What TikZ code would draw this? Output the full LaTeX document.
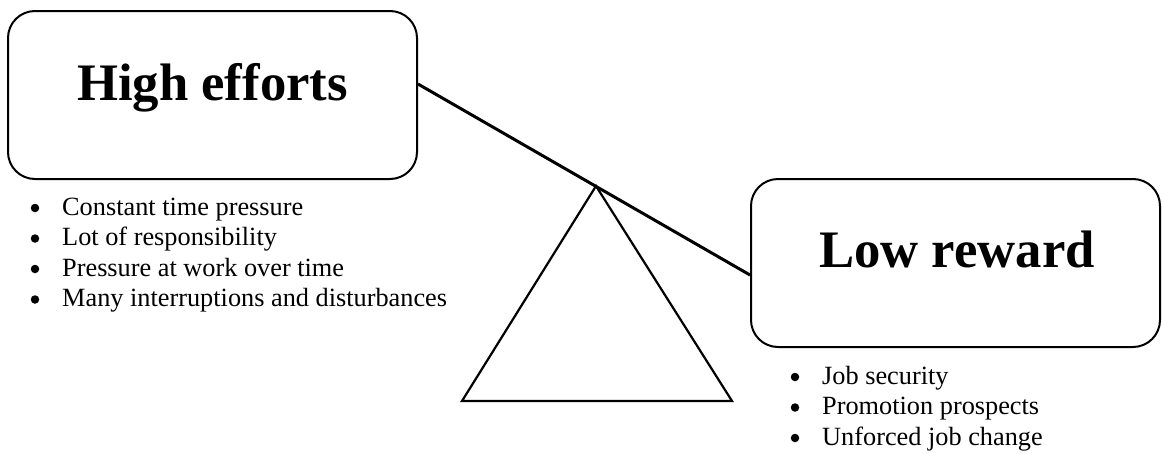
\documentclass[tikz,border=0pt]{standalone}
\usepackage{fontspec}
\setmainfont{Liberation Serif}
\usetikzlibrary{calc}
\begin{document}
\begin{tikzpicture}[x=1pt,y=-1pt,
  panel/.style={draw, line width=2pt, rounded corners=27pt,
    minimum width=409pt, minimum height=168pt, inner sep=0pt},
  heading/.style={font=\fontsize{52.7}{60}\selectfont\bfseries,
    anchor=base, inner sep=0pt},
  item/.style={font=\fontsize{26.3}{30}\selectfont, anchor=base west, inner sep=0pt},
  dot/.style={fill, circle, minimum size=8.5pt, inner sep=0pt},
  beam/.style={line width=3pt},
  fulcrum/.style={line width=2.2pt, line join=miter},
]
\useasboundingbox (0,0) rectangle (1164,453);

% the two rounded panels
\node[panel] (effort) at (212.5,95) {};
\node[panel] (reward) at (955.5,263) {};
\node[heading] (effortT) at (212.5,100) {High efforts};
\node[heading] (rewardT) at (957,267) {Low reward};

% tilted beam resting on the fulcrum
\coordinate (beamA) at ($(effort.east)+(0,-11)$);
\coordinate (beamB) at ($(reward.west)+(0,12)$);
\draw[beam] (beamA) -- (beamB);

% fulcrum triangle
\coordinate (apex) at (596,186);
\coordinate (baseL) at (462,401);
\coordinate (baseR) at (732,401);
\draw[fulcrum] (apex) -- (baseL) -- (baseR) -- cycle;

% effort items
\node[dot] (e1b) at (35,208) {};
\node[item] (e1) at (62,215) {Constant time pressure};
\node[dot] (e2b) at (35,238.5) {};
\node[item] (e2) at (62,245.5) {Lot of responsibility};
\node[dot] (e3b) at (35,269) {};
\node[item] (e3) at (62,276) {Pressure at work over time};
\node[dot] (e4b) at (35,299.5) {};
\node[item] (e4) at (62,306.5) {Many interruptions and disturbances};

% reward items
\node[dot] (r1b) at (795,377) {};
\node[item] (r1) at (822,384) {Job security};
\node[dot] (r2b) at (795,407.5) {};
\node[item] (r2) at (822,414.5) {Promotion prospects};
\node[dot] (r3b) at (795,438) {};
\node[item] (r3) at (822,445) {Unforced job change};
\end{tikzpicture}
\end{document}
